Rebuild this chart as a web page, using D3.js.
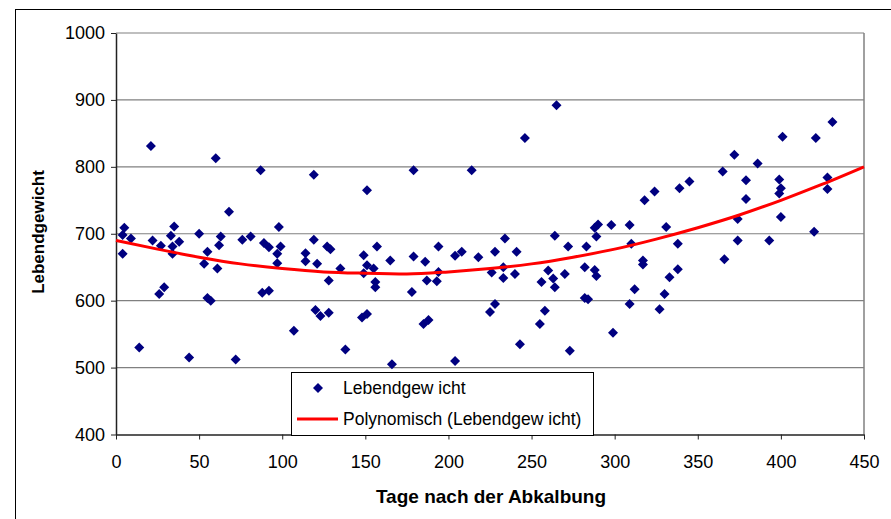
<!DOCTYPE html>
<html>
<head>
<meta charset="utf-8">
<script src="https://cdn.jsdelivr.net/npm/d3@7"></script>
<style>
body { margin: 0; background: #fff; }
svg text { font-family: Arial, "Liberation Sans", sans-serif; fill: #000; }
</style>
</head>
<body>
<script>
// days after calving / live weight
const days = [21, 60, 87, 68, 5, 4, 9, 4, 22, 27, 35, 33, 38, 34, 34, 26, 29, 50, 55, 53,
    62, 63, 61, 55, 57, 76, 81, 14, 44, 72, 119, 151, 98, 89, 92, 99, 97, 97, 88, 92,
    119, 114, 114, 121, 127, 129, 128, 135, 120, 123, 128, 107, 138, 149, 151, 155, 149, 157, 165, 156,
    156, 148, 151, 166, 179, 214, 246, 179, 186, 187, 178, 194, 194, 193, 204, 208, 218, 185, 188, 204,
    228, 234, 226, 233, 233, 241, 240, 225, 228, 243, 256, 260, 258, 255, 265, 264, 272, 263, 264, 270,
    273, 282, 283, 282, 284, 288, 289, 288, 290, 289, 298, 299, 309, 310, 317, 317, 312, 309, 318, 324,
    331, 338, 338, 333, 330, 327, 339, 345, 431, 401, 421, 372, 386, 365, 379, 399, 400, 399, 379, 428,
    428, 374, 400, 374, 393, 420, 366];
const weights = [831, 813, 795, 733, 709, 698, 693, 670, 690, 682, 711, 697, 688, 681, 670, 610, 620, 700, 673, 655,
    683, 696, 648, 604, 600, 691, 696, 530, 515, 512, 788, 765, 710, 686, 680, 681, 670, 656, 612, 615,
    691, 671, 659, 655, 681, 677, 630, 648, 586, 577, 582, 555, 527, 668, 653, 648, 641, 681, 660, 628,
    620, 575, 580, 505, 795, 795, 843, 666, 658, 630, 613, 681, 643, 629, 667, 673, 665, 565, 571, 510,
    673, 693, 642, 650, 634, 673, 640, 583, 595, 535, 628, 645, 585, 565, 892, 697, 681, 633, 620, 640,
    525, 650, 681, 604, 602, 646, 637, 709, 714, 696, 713, 552, 713, 685, 660, 654, 617, 595, 750, 763,
    710, 685, 647, 635, 610, 587, 768, 778, 867, 845, 843, 818, 805, 793, 780, 781, 768, 760, 752, 784,
    767, 722, 725, 690, 690, 703, 662];

// polynomial trend line, read at steps of 25 days
const trendDays = [0, 25, 50, 75, 100, 125, 150, 175, 200, 225, 250, 275, 300, 325, 350, 375, 400, 425, 450];
const trendWeights = [690, 677, 665, 655, 648, 643, 641, 640, 643, 648, 655, 665, 677, 692, 709, 728, 750, 774, 800];

const xTicks = [0, 50, 100, 150, 200, 250, 300, 350, 400, 450];
const yTicks = [400, 500, 600, 700, 800, 900, 1000];

const w = 891, h = 519;
const plot = {left: 116, right: 864, top: 33, bottom: 434.5};

const svg = d3.select("body").append("svg")
    .attr("width", w)
    .attr("height", h);

// chart frame
svg.append("rect")
    .attr("x", 15.5).attr("y", 9.5)
    .attr("width", 900).attr("height", 600)
    .attr("fill", "#fff")
    .attr("stroke", "#000");

let x = d3.scaleLinear().domain([0, 450]).range([plot.left, plot.right]);
let y = d3.scaleLinear().domain([400, 1000]).range([plot.bottom, plot.top]);

// horizontal gridlines
svg.append("g")
    .selectAll("line")
    .data(yTicks.filter(d => d > 400))
    .enter().append("line")
    .attr("x1", plot.left).attr("x2", plot.right)
    .attr("y1", d => y(d)).attr("y2", d => y(d))
    .attr("stroke", "#808080")
    .attr("stroke-width", 1.2);

// right border of the plot area
svg.append("line")
    .attr("x1", plot.right).attr("x2", plot.right)
    .attr("y1", plot.top).attr("y2", plot.bottom)
    .attr("stroke", "#808080")
    .attr("stroke-width", 1.5);

let xAxis = d3.axisBottom(x).tickValues(xTicks).tickFormat(d3.format("d"))
    .tickSize(5).tickSizeOuter(0).tickPadding(16);
let yAxis = d3.axisLeft(y).tickValues(yTicks).tickFormat(d3.format("d"))
    .tickSize(5).tickSizeOuter(0).tickPadding(6);

let gx = svg.append("g")
    .attr("transform", `translate(0,${plot.bottom})`)
    .call(xAxis);
let gy = svg.append("g")
    .attr("transform", `translate(${plot.left},0)`)
    .call(yAxis);

[gx, gy].forEach(g => {
    g.select(".domain").attr("stroke", "#222").attr("stroke-width", 1.5);
    g.selectAll(".tick line").attr("stroke", "#222");
    g.selectAll(".tick text")
        .attr("font-family", "Arial, 'Liberation Sans', sans-serif")
        .attr("font-size", 18)
        .attr("fill", "#000");
});

// scatter
svg.append("g")
    .selectAll("path")
    .data(days.map((d, i) => [d, weights[i]]))
    .enter().append("path")
    .attr("d", d3.symbol(d3.symbolSquare, 50))
    .attr("transform", d => `translate(${x(d[0])},${y(d[1])}) rotate(45)`)
    .attr("fill", "#000080");

// trend line
let line = d3.line()
    .x((d, i) => x(trendDays[i]))
    .y(d => y(d))
    .curve(d3.curveMonotoneX);

svg.append("path")
    .datum(trendWeights)
    .attr("d", line)
    .attr("fill", "none")
    .attr("stroke", "#ff0000")
    .attr("stroke-width", 3);

// axis titles
svg.append("text")
    .attr("x", 491)
    .attr("y", 503)
    .attr("text-anchor", "middle")
    .attr("font-weight", "bold")
    .attr("font-size", 19)
    .text("Tage nach der Abkalbung");

svg.append("text")
    .attr("transform", "translate(44,232) rotate(-90)")
    .attr("text-anchor", "middle")
    .attr("font-weight", "bold")
    .attr("font-size", 17)
    .text("Lebendgewicht");

// legend
let legend = svg.append("g");
legend.append("rect")
    .attr("x", 291.5).attr("y", 372.5)
    .attr("width", 302).attr("height", 63)
    .attr("fill", "#fff")
    .attr("stroke", "#000");
legend.append("path")
    .attr("d", d3.symbol(d3.symbolSquare, 50))
    .attr("transform", "translate(318,388) rotate(45)")
    .attr("fill", "#000080");
legend.append("line")
    .attr("x1", 297).attr("x2", 338)
    .attr("y1", 419).attr("y2", 419)
    .attr("stroke", "#ff0000")
    .attr("stroke-width", 3);
legend.append("text")
    .attr("x", 343).attr("y", 394)
    .attr("font-size", 17.5)
    .text("Lebendgew icht");
legend.append("text")
    .attr("x", 343).attr("y", 425)
    .attr("font-size", 17.5)
    .text("Polynomisch (Lebendgew icht)");
</script>
</body>
</html>
